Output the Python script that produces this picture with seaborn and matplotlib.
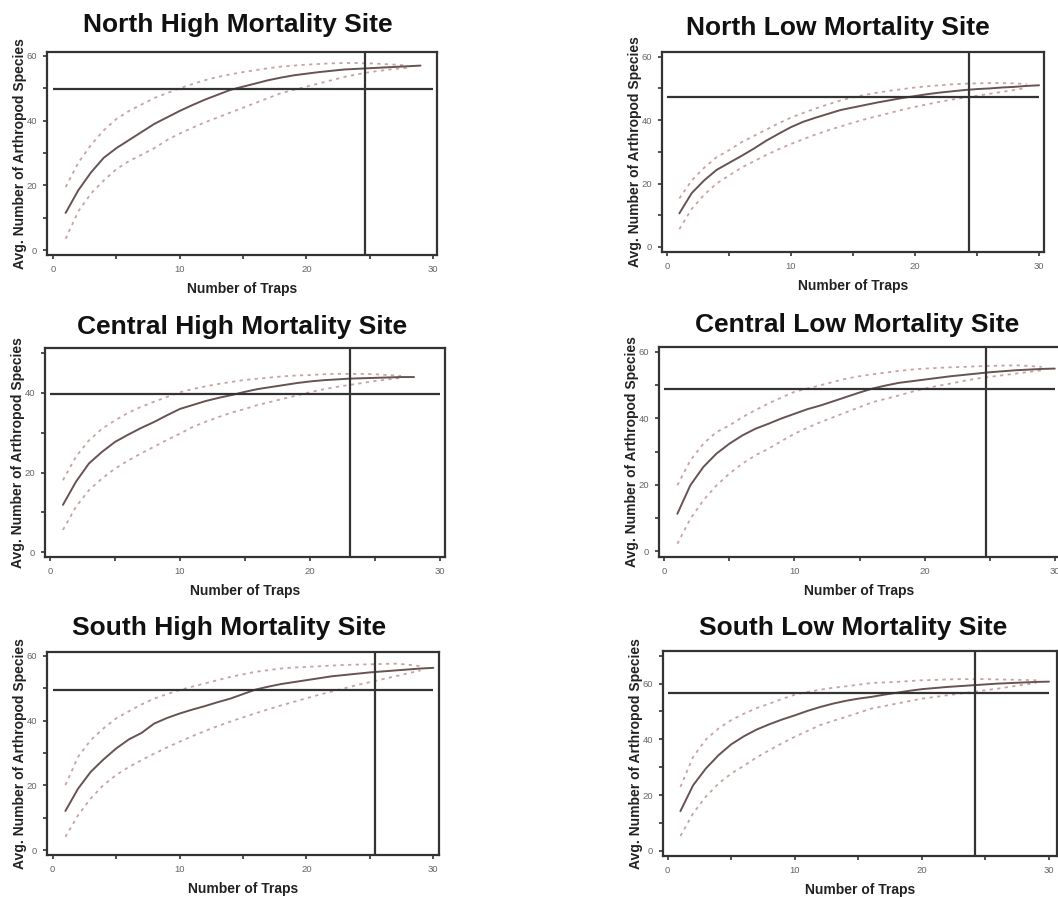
import matplotlib
matplotlib.use("Agg")
import matplotlib.pyplot as plt
import seaborn as sns

# Rarefaction curves: mean and confidence bounds per number of traps (1..n)
nh_mean = [11.5, 18.5, 24, 28.5, 31.5, 34, 36.5, 39, 41, 43, 44.8, 46.5, 48, 49.5, 50.5,
           51.5, 52.5, 53.3, 54, 54.5, 55, 55.4, 55.8, 56, 56.2, 56.4, 56.6, 56.8, 57]
nh_upper = [19.5, 27, 32.5, 37, 40.5, 43, 45, 47, 48.5, 50, 51.3, 52.5, 53.5, 54.3, 55,
            55.6, 56.2, 56.7, 57, 57.3, 57.5, 57.7, 57.8, 57.8, 57.7, 57.5, 57.3, 57]
nh_lower = [3.5, 12, 17.5, 21.5, 25, 27.5, 29.5, 31.5, 34, 36, 37.8, 39.5, 41, 42.5, 44,
            45.5, 47, 48.5, 49.5, 50.5, 51.5, 52.5, 53.5, 54.3, 55, 55.5, 56, 56.3]

nl_mean = [10.6, 17, 21, 24.3, 26.5, 28.7, 31, 33.5, 35.7, 37.8, 39.5, 40.8, 42, 43.2, 44,
           44.8, 45.6, 46.3, 47, 47.6, 48.2, 48.7, 49.1, 49.5, 49.8, 50, 50.3, 50.5, 50.8, 51]
nl_upper = [15.3, 21, 25, 28.3, 30.5, 33, 35, 37, 39, 40.8, 42.3, 43.7, 45, 46.2, 47.2,
            48, 48.7, 49.3, 49.8, 50.3, 50.7, 51, 51.3, 51.5, 51.6, 51.7, 51.7, 51.6, 51.4]
nl_lower = [5.6, 12, 16.5, 20, 22.5, 25, 27, 29, 30.8, 32.5, 34, 35.5, 36.8, 38, 39.2,
            40.3, 41.3, 42.3, 43.3, 44.2, 45, 45.8, 46.5, 47.1, 47.7, 48.3, 48.9, 49.5, 50.2]

ch_mean = [11.9, 17.7, 22.3, 25.2, 27.7, 29.5, 31.2, 32.7, 34.4, 36, 37, 38, 38.8, 39.5,
           40.3, 41, 41.5, 42, 42.5, 42.9, 43.2, 43.4, 43.6, 43.7, 43.8, 43.9, 44, 44]
ch_upper = [18.1, 24, 28.1, 31, 33.1, 35, 36.5, 37.8, 39, 40.2, 41, 41.7, 42.3, 42.8,
            43.3, 43.6, 43.9, 44.2, 44.4, 44.5, 44.7, 44.8, 44.8, 44.8, 44.7, 44.5, 44.3]
ch_lower = [5.6, 11.4, 15.6, 18.5, 21, 23, 24.8, 26.5, 28.2, 29.8, 31.5, 32.8, 34, 35.1,
            36, 37, 37.8, 38.6, 39.4, 40.2, 40.9, 41.5, 42, 42.5, 43, 43.4, 43.8]

cl_mean = [11.3, 19.9, 25.4, 29.4, 32.4, 34.9, 36.9, 38.4, 40, 41.4, 42.8, 43.9, 45.2, 46.5,
           47.8, 49, 49.9, 50.7, 51.2, 51.7, 52.2, 52.7, 53.1, 53.5, 53.9, 54.2, 54.5, 54.7,
           54.9, 55]
cl_upper = [19.9, 27.4, 32.4, 35.9, 37.9, 40.4, 42.5, 44.5, 46.3, 48, 49, 50, 51, 52, 52.7,
            53.3, 53.8, 54.3, 54.7, 55, 55.2, 55.4, 55.5, 55.7, 55.8, 55.9, 56, 55.8, 55.5]
cl_lower = [2.3, 9.8, 15.4, 19.8, 23.4, 26.4, 28.9, 30.9, 33.2, 35.4, 37.2, 38.9, 40.4, 41.9,
            43.4, 44.9, 45.9, 46.9, 48, 49, 49.8, 50.5, 51.3, 52, 52.5, 53, 53.5, 54, 54.5]

sh_mean = [12.1, 19, 24.2, 28, 31.4, 34.2, 36.2, 39.1, 40.8, 42.2, 43.4, 44.5, 45.7, 46.8,
           48.2, 49.6, 50.5, 51.3, 51.9, 52.5, 53.1, 53.7, 54.1, 54.5, 54.9, 55.2, 55.5,
           55.8, 56.1, 56.3]
sh_upper = [20.1, 28.8, 34, 37.6, 40.7, 42.9, 45, 46.8, 48.2, 49.4, 50.5, 51.5, 52.5, 53.5,
            54.3, 55.1, 55.6, 56.1, 56.4, 56.6, 56.8, 57, 57.2, 57.3, 57.4, 57.5, 57.6, 57.3, 56.8]
sh_lower = [4.1, 10.8, 16, 20.1, 23.2, 25.7, 27.8, 29.8, 31.7, 33.5, 35.2, 36.8, 38.3, 39.7,
            41, 42.3, 43.5, 44.7, 45.8, 46.9, 48, 49, 50, 51, 51.9, 52.8, 53.7, 54.6, 55.5]

sl_mean = [14.2, 23.5, 29.5, 34.3, 38.2, 41.1, 43.5, 45.4, 47.1, 48.6, 50.2, 51.6, 52.8, 53.8,
           54.6, 55.2, 56, 56.7, 57.4, 58, 58.4, 58.8, 59.1, 59.4, 59.7, 60, 60.2, 60.4, 60.6, 60.7]
sl_upper = [22.9, 33.7, 39.9, 43.9, 46.9, 49.2, 51.2, 52.8, 54.5, 56, 57, 57.8, 58.5, 59, 59.6,
            60.2, 60.4, 60.6, 60.9, 61.2, 61.3, 61.5, 61.6, 61.6, 61.6, 61.5, 61.4, 61.3, 61.2]
sl_lower = [5.3, 13.4, 19.4, 24.1, 27.7, 30.5, 33.5, 36.1, 38.6, 40.9, 43, 45.1, 46.6, 48,
            49.5, 51, 51.9, 52.8, 53.7, 54.6, 55.2, 55.8, 56.4, 57, 57.6, 58.2, 58.9, 59.6, 60.2]

titles = ["North High Mortality Site", "North Low Mortality Site",
          "Central High Mortality Site", "Central Low Mortality Site",
          "South High Mortality Site", "South Low Mortality Site"]
ref_species = [49.8, 47.4, 39.8, 49.0, 49.4, 56.6]   # horizontal reference line
ref_traps = [24.6, 24.35, 23.1, 24.7, 25.4, 24.2]    # vertical reference line
y_tops = [60, 60, 50, 60, 60, 70]

curves = [(nh_mean, nh_upper, nh_lower), (nl_mean, nl_upper, nl_lower),
          (ch_mean, ch_upper, ch_lower), (cl_mean, cl_upper, cl_lower),
          (sh_mean, sh_upper, sh_lower), (sl_mean, sl_upper, sl_lower)]

# panel boxes in pixels (left, right, top, bottom), axis limits and title centres
W, H = 1058, 897
boxes = [(47, 437, 52, 255), (662, 1044, 52, 252), (45, 445, 348, 557),
         (659, 1060, 347, 557), (47, 439, 652, 855), (663, 1057, 651, 856)]
xlims = [(-0.47, 30.3), (-0.4, 30.4), (-0.38, 30.38), (-0.41, 30.4), (-0.45, 30.45), (-0.37, 30.63)]
ylims = [(-1.5, 61.2), (-1.6, 61.5), (-1.2, 51.3), (-1.7, 61.5), (-1.5, 61.2), (-1.9, 71.7)]
title_pos = [(238, 25), (838, 28), (242, 327), (857, 325), (229, 628), (853, 628)]

sns.set_style("white")
plt.rcParams["font.family"] = ["Liberation Sans", "DejaVu Sans"]

frame_col = "#333333"
mean_col = "#685252"
ci_col = "#c9a3a3"

fig = plt.figure(figsize=(W / 100, H / 100), dpi=100)

for i in range(6):
    L, R, T, B = boxes[i]
    ax = fig.add_axes([L / W, 1 - B / H, (R - L) / W, (B - T) / H])
    mean, upper, lower = curves[i]

    sns.lineplot(x=list(range(1, len(upper) + 1)), y=upper, ax=ax, color=ci_col,
                 linewidth=1.3, linestyle=(0, (1.8, 2.4)))
    sns.lineplot(x=list(range(1, len(lower) + 1)), y=lower, ax=ax, color=ci_col,
                 linewidth=1.3, linestyle=(0, (1.8, 2.4)))
    sns.lineplot(x=list(range(1, len(mean) + 1)), y=mean, ax=ax, color=mean_col,
                 linewidth=1.4)

    ax.hlines(ref_species[i], 0, 30, color=frame_col, linewidth=1.6)
    ax.axvline(ref_traps[i], color=frame_col, linewidth=1.6)

    ax.set_xlim(*xlims[i])
    ax.set_ylim(*ylims[i])
    ax.set_xticks(range(0, 31, 5))
    ax.set_xticklabels([str(v) if v % 10 == 0 else "" for v in range(0, 31, 5)])
    yt = list(range(0, y_tops[i] + 1, 10))
    ax.set_yticks(yt)
    ax.set_yticklabels([str(v) if v % 20 == 0 else "" for v in yt])
    ax.tick_params(axis="both", direction="out", length=3, width=1.2, color=frame_col,
                   labelsize=6.8, labelcolor="#666666", pad=4, bottom=True, left=True)

    for s in ax.spines.values():
        s.set_visible(True)
        s.set_color(frame_col)
        s.set_linewidth(1.6)

    ax.set_xlabel("Number of Traps", fontsize=10, fontweight="bold", color="#222222",
                  labelpad=6)
    ax.set_ylabel("Avg. Number of Arthropod Species", fontsize=10, fontweight="bold",
                  color="#222222", labelpad=0)

    tx, ty = title_pos[i]
    fig.text(tx / W, 1 - ty / H, titles[i], ha="center", va="center",
             fontsize=19, fontweight="bold", color="#111111")

fig.savefig("out.png", dpi=100)
